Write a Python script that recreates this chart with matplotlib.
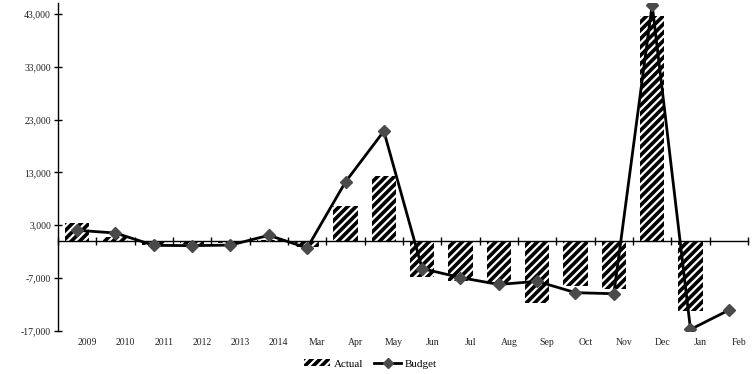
import matplotlib
matplotlib.use("Agg")
import matplotlib.pyplot as plt
import matplotlib.transforms as mtransforms
from matplotlib.ticker import FuncFormatter
from matplotlib.lines import Line2D
from matplotlib.patches import Patch
import numpy as np

categories = ["2009", "2010", "2011", "2012", "2013", "2014", "Mar", "Apr", "May",
              "Jun", "Jul", "Aug", "Sep", "Oct", "Nov", "Dec", "Jan", "Feb"]
actual = [3500, 800, -700, -500, -300, 150, -1100, 6600, 12400,
          -6800, -7550, -8050, -11700, -8500, -9000, 42600, -13240, 0]
budget = [2050, 1530, -800, -850, -750, 1100, -1300, 11200, 20800,
          -5200, -6900, -8200, -7600, -9750, -9950, 44700, -16700, -13050]
y_ticks = [-17000, -7000, 3000, 13000, 23000, 33000, 43000]

plt.rcParams["font.family"] = ["Liberation Serif", "DejaVu Serif"]
plt.rcParams["hatch.linewidth"] = 1.6

fig = plt.figure(figsize=(7.54, 3.74), dpi=100)
ax = fig.add_axes([58 / 754, 43 / 374, 690 / 754, 327.8 / 374])

x = np.arange(len(categories))
ax.bar(x, actual, width=0.64, color="black", edgecolor="white",
       linewidth=0, hatch="////", zorder=2)
ax.plot(x, budget, color="black", linewidth=2, marker="D", markersize=6,
        markerfacecolor="#4a4a4a", markeredgecolor="#4a4a4a", zorder=3)

ax.set_xlim(-0.5, len(categories) - 0.5)
ax.set_ylim(-17000, 45000)

# axes lines
for s in ["top", "right"]:
    ax.spines[s].set_visible(False)
ax.spines["bottom"].set_position(("data", 0))
ax.spines["bottom"].set_color("black")
ax.spines["left"].set_color("black")
ax.spines["left"].set_linewidth(1.0)
ax.spines["bottom"].set_linewidth(1.0)

ax.set_yticks(y_ticks)
ax.yaxis.set_major_formatter(FuncFormatter(lambda v, p: f"{int(v):,}"))
ax.tick_params(axis="y", direction="inout", length=6, width=1, labelsize=7,
               labelcolor="#222222", pad=2)

# category boundaries as ticks on the zero line, labels along the bottom
ax.set_xticks(np.arange(len(categories) + 1) - 0.5)
ax.set_xticklabels([])
ax.tick_params(axis="x", direction="inout", length=6, width=1)

offset = mtransforms.ScaledTranslation(10 / 100, 0, fig.dpi_scale_trans)
trans = mtransforms.blended_transform_factory(ax.transData, ax.transAxes) + offset
for i, lab in enumerate(categories):
    ax.text(i, -0.034, lab, transform=trans, ha="center", va="center",
            fontsize=7, color="#222222")

handles = [
    Patch(facecolor="black", edgecolor="white", linewidth=0, hatch="////"),
    Line2D([0], [0], color="black", linewidth=2, marker="D", markersize=5,
           markerfacecolor="#4a4a4a", markeredgecolor="#4a4a4a"),
]
fig.legend(handles, ["Actual", "Budget"], loc="center", bbox_to_anchor=(370 / 754, 1 - 364 / 374),
           ncol=2, frameon=False, fontsize=8, handlelength=2.4, handleheight=0.5,
           columnspacing=1.0, handletextpad=0.3)

fig.savefig("out.png", dpi=100)
